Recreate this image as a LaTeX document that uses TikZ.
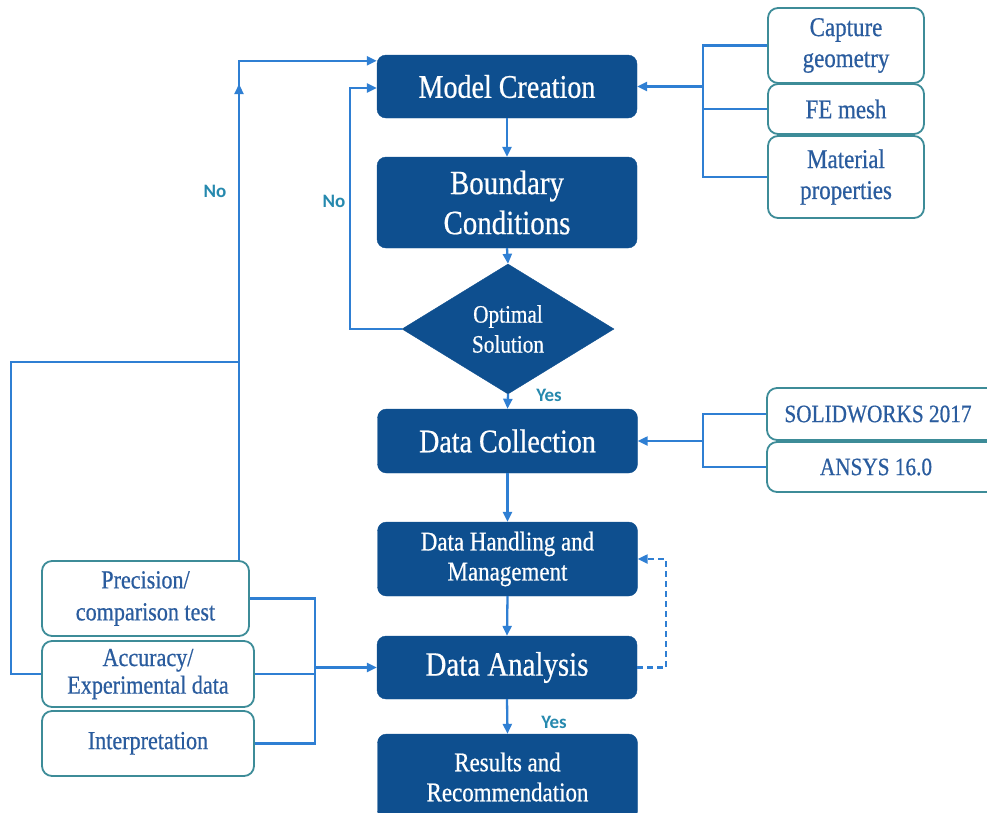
\documentclass[tikz,border=0pt]{standalone}
\usepackage{fontspec}
\setmainfont{Liberation Serif}[FakeStretch=0.85, FakeBold=0.6]
\newfontfamily\labelfont{Carlito}
\usetikzlibrary{arrows.meta,shapes.geometric,calc}

\definecolor{stepblue}{HTML}{0E4F8F}
\definecolor{linkblue}{HTML}{2F7FD3}
\definecolor{edgeteal}{HTML}{3D8C98}
\definecolor{inkblue}{HTML}{2A5C9E}
\definecolor{noteteal}{HTML}{2689AE}

\newcommand{\fs}[2]{\fontsize{#1}{#2}\selectfont}

\begin{document}
\begin{tikzpicture}[x=1pt,y=-1pt,
  stepbox/.style={draw=stepblue, fill=stepblue, rounded corners=9pt, text=white,
    align=center, inner sep=0pt, minimum width=260pt},
  choice/.style={diamond, draw=stepblue, fill=stepblue, text=white, align=center,
    inner sep=0pt, minimum width=212pt, minimum height=130pt},
  infobox/.style={draw=edgeteal, line width=1.8pt, fill=white, rounded corners=10pt,
    text=inkblue, align=center, inner sep=0pt},
  link/.style={draw=linkblue, line width=2.3pt},
  arr/.style={link, -{Triangle[length=10pt,width=9pt]}},
  note/.style={font=\labelfont\bfseries\fs{19}{19}, text=noteteal}]

\useasboundingbox (0,0) rectangle (987,812);

% main process column
\node[stepbox, minimum height=63pt, font=\fs{33}{38}] (model) at (507,86.5) {Model Creation};
\node[stepbox, minimum height=91pt, font=\fs{34}{40}] (bc) at (507,202.5) {Boundary\\Conditions};
\node[choice, font=\fs{25}{30}] (opt) at (508,329) {Optimal\\Solution};
\node[stepbox, minimum height=64pt, font=\fs{33}{38}] (dc) at (507.5,441) {Data Collection};
\node[stepbox, minimum height=74pt, font=\fs{27}{30}] (dh) at (507.5,559) {Data Handling and\\Management};
\node[stepbox, minimum height=63pt, font=\fs{34}{38}] (da) at (507,667.5) {Data Analysis};
\node[stepbox, minimum height=86pt, font=\fs{27}{30}] (res) at (507.5,777) {Results and\\Recommendation};

% modelling inputs
\node[infobox, minimum width=156pt, minimum height=75pt, font=\fs{27}{31}] (cap) at (846,45.5) {Capture\\geometry};
\node[infobox, minimum width=156pt, minimum height=50pt, font=\fs{27}{31}] (fe) at (846,109) {FE mesh};
\node[infobox, minimum width=156pt, minimum height=82pt, font=\fs{27}{31}] (mat) at (846,177) {Material\\properties};

% software
\node[infobox, minimum width=230pt, minimum height=52pt, font=\fs{25}{26}] (sw) at (882,414) {\hspace*{-8pt}SOLIDWORKS 2017};
\node[infobox, minimum width=230pt, minimum height=50pt, font=\fs{25}{26}] (an) at (882,467) {\hspace*{-12pt}ANSYS 16.0};

% validation
\node[infobox, minimum width=207pt, minimum height=75pt, font=\fs{26}{32}] (prec) at (145.5,598.5) {Precision/\\comparison test};
\node[infobox, minimum width=212pt, minimum height=66pt, font=\fs{26}{27}] (acc) at (148,674) {\raisebox{-4pt}{\shortstack{Accuracy/\\[1pt]Experimental data}}};
\node[infobox, minimum width=212pt, minimum height=65pt, font=\fs{26}{27}] (interp) at (148,743.5) {\raisebox{6pt}{Interpretation}};

% main flow
\draw[arr] (model.south) -- (bc.north);
\draw[arr] (bc.south) -- (opt.north);
\draw[arr] (opt.south) -- (dc.north);
\draw[arr] (dc.south) -- (dh.north);
\draw[arr] (dh.south) -- (da.north);
\draw[arr] (da.south) -- (res.north);

% inputs to model creation
\coordinate (rbx) at (703,0);
\draw[link] (cap.west) -- (cap.west -| rbx) |- (mat.west);
\draw[link] (fe.west) -- (fe.west -| rbx);
\draw[arr] (model.east -| rbx) -- (model.east);

% software to data collection
\draw[link] (sw.west) -- (sw.west -| rbx) |- (an.west);
\draw[arr] (dc.east -| rbx) -- (dc.east);

% validation to data analysis
\coordinate (lbx) at (315,0);
\draw[link] (prec.east) -- (prec.east -| lbx) |- (interp.east);
\draw[link] (acc.east) -- (acc.east -| lbx);
\draw[arr] (da.west -| lbx) -- (da.west);

% feedback from analysis to data handling
\draw[arr, dash pattern=on 6pt off 4pt] (da.east) -- ++(29,0) |- (dh.east);

% inner loop: no optimal solution
\coordinate (innerx) at (350,0);
\draw[arr] (opt.west) -- (opt.west -| innerx) |- ($(model.west)+(0,1.5)$);

% outer loop: validation fails
\coordinate (junc) at (239,362);
\coordinate (outx) at (11,0);
\coordinate (upmark) at (239,84);
\draw[link] (acc.west) -- (acc.west -| outx) |- (junc);
\draw[arr] (prec.north -| junc) -- (junc) |- ($(model.north west)+(0,6)$);
\draw[arr] (junc) -- (upmark);

% decision labels
\node[note] (no1) at (215,191) {No};
\node[note] (no2) at (334,201) {No};
\node[note] (yes1) at (549,395) {Yes};
\node[note] (yes2) at (554,722) {Yes};
\end{tikzpicture}
\end{document}
